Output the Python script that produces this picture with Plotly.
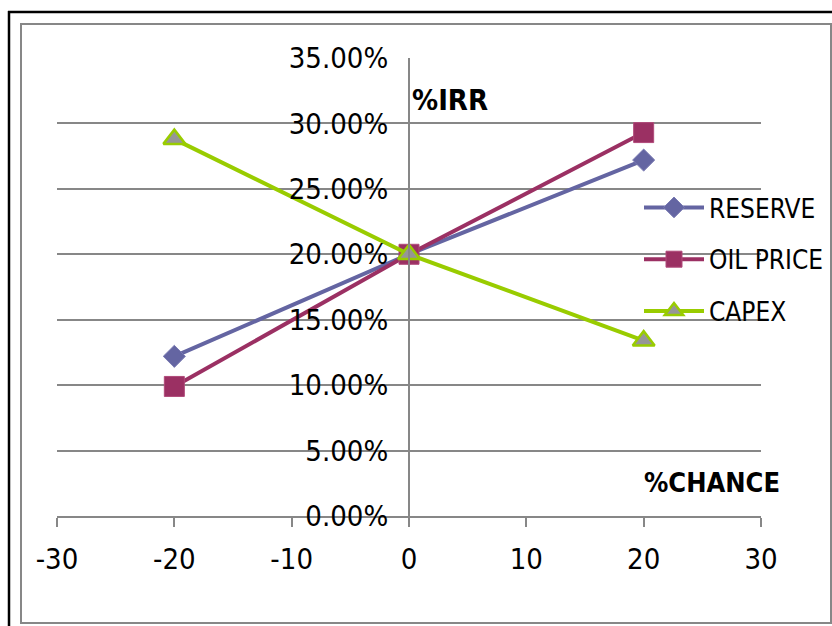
import plotly.graph_objects as go

# Sensitivity of IRR to a percentage change in each input
change_pct = [-20, 0, 20]
reserve_irr = [0.122, 0.200, 0.272]
oil_price_irr = [0.099, 0.200, 0.293]
capex_irr = [0.288, 0.200, 0.134]

x_tick_vals = [-30, -20, -10, 0, 10, 20, 30]
x_tick_text = ["-30", "-20", "-10", "0", "10", "20", "30"]

W, H = 832, 626
ML, MR, MT, MB = 57, 71, 58, 110
PW, PH = W - ML - MR, H - MT - MB


def px_x(px):
    return (px - ML) / PW


def px_y(py):
    return (H - MB - py) / PH


FONT = "DejaVu Sans Condensed, DejaVu Sans, sans-serif"
GRID = "#878787"

fig = go.Figure()

fig.add_trace(go.Scatter(
    x=change_pct, y=reserve_irr, name="RESERVE", mode="lines+markers",
    line=dict(color="#6465A2", width=4),
    marker=dict(symbol="diamond", size=17, color="#6465A2",
                line=dict(color="#7A7BB3", width=1)),
    legendgroup="a",
))
fig.add_trace(go.Scatter(
    x=change_pct, y=oil_price_irr, name="OIL PRICE", mode="lines+markers",
    line=dict(color="#9B3063", width=4),
    marker=dict(symbol="square", size=20, color="#9B3063",
                line=dict(color="#B04A7A", width=1)),
    legendgroup="b",
))
fig.add_trace(go.Scatter(
    x=change_pct, y=capex_irr, name="CAPEX", mode="lines+markers",
    line=dict(color="#99CC00", width=4),
    marker=dict(symbol="triangle-up", size=19, color="#969696",
                line=dict(color="#99CC00", width=2.5)),
    legendgroup="c",
))

shapes = [
    # outer frame (left and top edges)
    dict(type="line", xref="paper", yref="paper",
         x0=px_x(9), x1=px_x(9), y0=px_y(11), y1=px_y(630),
         line=dict(color="black", width=2.5)),
    dict(type="line", xref="paper", yref="paper",
         x0=px_x(8), x1=px_x(840), y0=px_y(12), y1=px_y(12),
         line=dict(color="black", width=2.5)),
    # chart area border
    dict(type="rect", xref="paper", yref="paper",
         x0=px_x(21), x1=px_x(831), y0=px_y(623), y1=px_y(24),
         line=dict(color=GRID, width=2), layer="below"),
    # legend backdrop: hides gridlines, stays under the series
    dict(type="rect", xref="paper", yref="paper",
         x0=px_x(634), x1=px_x(766), y0=px_y(326), y1=px_y(184),
         fillcolor="white", line=dict(width=0), layer="between"),
]

annotations = [
    dict(text="<b>%IRR</b>", xref="paper", yref="paper",
         x=px_x(410), y=px_y(100), xanchor="left", yanchor="middle",
         showarrow=False, font=dict(family=FONT, size=29, color="black")),
    dict(text="<b>%CHANCE</b>", xref="paper", yref="paper",
         x=px_x(642), y=px_y(482), xanchor="left", yanchor="middle",
         showarrow=False, font=dict(family=FONT, size=27, color="black")),
]

fig.update_layout(
    width=W, height=H,
    margin=dict(l=ML, r=MR, t=MT, b=MB, pad=0, autoexpand=False),
    paper_bgcolor="white", plot_bgcolor="white",
    font=dict(family=FONT, size=28, color="black"),
    showlegend=True,
    legend=dict(
        x=px_x(639), y=px_y(184), xanchor="left", yanchor="top",
        bgcolor="rgba(0,0,0,0)", borderwidth=0,
        traceorder="grouped", tracegroupgap=15,
        font=dict(family=FONT, size=26, color="black"),
        itemwidth=60,
    ),
    shapes=shapes,
    annotations=annotations,
    xaxis=dict(
        range=[-30, 30], tickvals=x_tick_vals, ticktext=x_tick_text,
        showgrid=False, zeroline=False,
        showline=True, linecolor=GRID, linewidth=2,
        ticks="outside", ticklen=9, tickwidth=2, tickcolor=GRID,
        ticklabelstandoff=7, tickfont=dict(size=29),
    ),
    yaxis=dict(
        range=[0, 0.35], dtick=0.05, tick0=0, tickformat=".2%",
        anchor="free", position=0.5,
        showgrid=True, gridcolor=GRID, gridwidth=2,
        zeroline=False, showline=True, linecolor=GRID, linewidth=2,
        ticks="", ticklabelstandoff=14, tickfont=dict(size=29),
    ),
)

fig.write_html("out.html")
